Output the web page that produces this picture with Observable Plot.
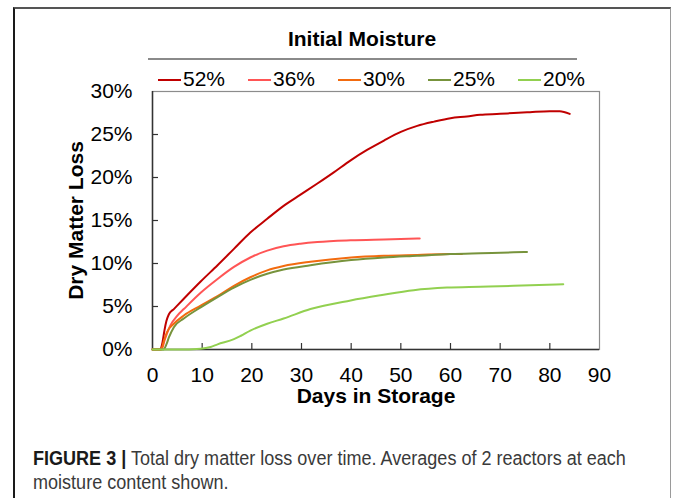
<!DOCTYPE html>
<html><head><meta charset="utf-8">
<script src="https://cdn.jsdelivr.net/npm/d3@7"></script>
<script src="https://cdn.jsdelivr.net/npm/@observablehq/plot@0.6"></script>
<style>
body{margin:0;background:#fff;font-family:"Liberation Sans",Arial,sans-serif;}
#page{position:relative;width:674px;height:498px;overflow:hidden;background:#fff;}
#frame{position:absolute;left:13px;top:7px;width:658px;height:540px;border-left:2px solid #1a1a1a;border-top:2px solid #555;border-right:1.5px solid #9a9a9a;box-sizing:border-box;}
#title{position:absolute;left:0;width:724px;top:28px;text-align:center;font-weight:bold;font-size:21px;line-height:21px;color:#000;}
#rule{position:absolute;left:148px;top:58px;width:429px;height:0;border-top:2px solid #8a8a8a;}
#legend{position:absolute;left:0;top:0;}
.li{position:absolute;top:68px;height:21px;}
.ln{position:absolute;top:11px;width:23px;height:2px;}
.lt{position:absolute;left:25px;top:0;font-size:21px;line-height:21px;color:#000;white-space:nowrap;}
#chart{position:absolute;left:0;top:62px;}
#caption{position:absolute;left:33px;top:446px;font-family:"Liberation Sans",Arial,sans-serif;font-size:19.5px;line-height:24px;color:#3a3a3a;white-space:nowrap;transform:scaleX(0.925);transform-origin:0 0;}
#caption b{color:#1a1a1a;}
</style></head>
<body>
<div id="page">
  <div id="frame"></div>
  <div id="title">Initial Moisture</div>
  <div id="rule"></div>
  <div id="legend"></div>
  <div id="chart"></div>
  <div id="caption"><b>FIGURE 3 |</b> Total dry matter loss over time. Averages of 2 reactors at each<br>moisture content shown.</div>
</div>
<script>
// ---- data ----
const seriesNames = ["52%", "36%", "30%", "25%", "20%"];
const seriesColors = ["#C00000", "#FF5555", "#F26B0F", "#77933C", "#92D050"];

const days52 = [0, 1.5, 2.0, 2.4, 2.8, 3.3, 4.3, 6.3, 9.7, 13.1, 16.4, 19.7, 23.1, 26.4, 29.8, 33.2, 36.5, 39.9, 43.2, 46.6, 50, 53.3, 56.7, 60, 63.3, 66, 70, 72.7, 76, 80, 82, 84];
const loss52 = [0, 0, 0.8, 2.2, 3.3, 4.1, 4.7, 5.9, 7.9, 9.8, 11.7, 13.6, 15.2, 16.7, 18.0, 19.3, 20.6, 22.0, 23.2, 24.3, 25.3, 26.0, 26.5, 26.9, 27.1, 27.3, 27.4, 27.5, 27.6, 27.7, 27.7, 27.4];

const days36 = [0, 1.8, 2.5, 3.0, 3.6, 5.0, 6.3, 9.7, 13.1, 16.4, 19.7, 23.1, 26.4, 29.8, 33.2, 39.9, 46.6, 53.8];
const loss36 = [0, 0, 1.2, 2.0, 2.8, 3.95, 4.7, 6.6, 8.2, 9.6, 10.7, 11.5, 12.0, 12.3, 12.5, 12.7, 12.8, 12.9];

const days30 = [0, 1.7, 2.3, 2.9, 4.3, 6.3, 9.7, 13.1, 16.4, 19.7, 23.1, 26.4, 31.8, 40, 46.6, 53.3, 60, 62.3];
const loss30 = [0, 0, 1.0, 2.0, 3.0, 3.95, 5.1, 6.2, 7.4, 8.4, 9.2, 9.7, 10.2, 10.7, 10.9, 11.0, 11.1, 11.1];

const days25 = [0, 2.2, 2.8, 3.3, 4.3, 6.3, 9.7, 13.1, 16.4, 19.7, 23.1, 26.4, 31.8, 40, 46.6, 53.3, 60, 66, 72.7, 75.4];
const loss25 = [0, 0, 0.6, 1.4, 2.6, 3.6, 4.9, 6.1, 7.2, 8.1, 8.8, 9.3, 9.8, 10.4, 10.7, 10.9, 11.1, 11.2, 11.3, 11.35];

const days20 = [0, 5, 9.7, 11.7, 13.1, 16.4, 17.8, 19.7, 23.1, 26.4, 31.8, 39.9, 45.9, 52.6, 59.3, 66, 72.7, 82.7];
const loss20 = [0, 0, 0.1, 0.3, 0.6, 1.2, 1.6, 2.2, 3.0, 3.6, 4.7, 5.7, 6.3, 6.9, 7.2, 7.3, 7.4, 7.6];

const xTicks = [0, 10, 20, 30, 40, 50, 60, 70, 80, 90];
const yTicks = [0, 5, 10, 15, 20, 25, 30];

// ---- build table ----
const seriesDays = [days52, days36, days30, days25, days20];
const seriesLoss = [loss52, loss36, loss30, loss25, loss20];
const rows = [];
seriesNames.forEach((name, i) => {
  seriesDays[i].forEach((d, j) => rows.push({series: name, day: d, loss: seriesLoss[i][j]}));
});

// ---- legend ----
const legendLefts = [158, 248, 338, 428, 518];
const legend = document.getElementById("legend");
seriesNames.forEach((name, i) => {
  const it = document.createElement("div");
  it.className = "li";
  it.style.left = legendLefts[i] + "px";
  it.innerHTML = `<div class="ln" style="background:${seriesColors[i]}"></div><div class="lt">${name}</div>`;
  legend.appendChild(it);
});

// ---- chart ----
const W = 674, H = 350, mt = 29, mb = 63, ml = 152, mr = 75;
const innerH = H - mt - mb, innerW = W - ml - mr;
const chart = Plot.plot({
  width: W, height: H,
  marginTop: mt, marginBottom: mb, marginLeft: ml, marginRight: mr,
  style: {fontFamily: "'Liberation Sans', Arial, sans-serif", fontSize: "21px", color: "#000", background: "transparent"},
  x: {domain: [0, 90]},
  y: {domain: [0, 30]},
  color: {domain: seriesNames, range: seriesColors},
  marks: [
    Plot.frame({stroke: "#8c8c8c", strokeWidth: 1.2}),
    Plot.tickX(xTicks.slice(1, -1), {x: d => d, insetTop: innerH - 6, stroke: "#333", strokeWidth: 1.2}),
    Plot.tickY(yTicks.slice(1, -1), {y: d => d, insetRight: innerW - 6, stroke: "#333", strokeWidth: 1.2}),
    Plot.ruleX([0], {stroke: "#333", strokeWidth: 1.5}),
    Plot.ruleY([0], {stroke: "#333", strokeWidth: 1.5}),
    Plot.axisX({ticks: xTicks, tickSize: 0, tickPadding: 18, fontSize: 21, label: null}),
    Plot.axisY({ticks: yTicks, tickSize: 0, tickPadding: 20, fontSize: 21, tickFormat: d => d + "%", label: null}),
    Plot.line(rows, {x: "day", y: "loss", z: "series", stroke: "series", curve: "monotone-x", strokeWidth: 2}),
    Plot.text(["Days in Storage"], {frameAnchor: "bottom", lineAnchor: "middle", textAnchor: "middle", dy: 47, fontWeight: "bold", fontSize: 21, fill: "#000"}),
    Plot.text(["Dry Matter Loss"], {frameAnchor: "left", lineAnchor: "middle", textAnchor: "middle", dx: -76, rotate: -90, fontWeight: "bold", fontSize: 21, fill: "#000"})
  ]
});
document.getElementById("chart").appendChild(chart);
</script>
</body></html>
